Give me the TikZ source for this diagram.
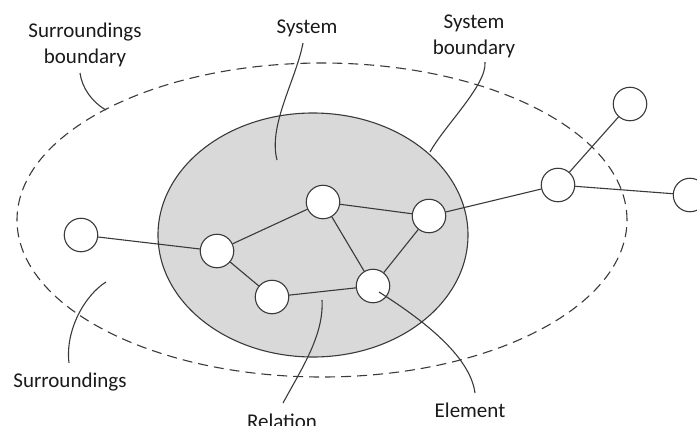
\documentclass[tikz,border=0pt]{standalone}
\usepackage{fontspec}
\setmainfont{Carlito}
\begin{document}
\begin{tikzpicture}[x=1pt,y=-1pt,
  line width=1.1pt,
  every node/.style={font=\fontsize{21}{25.5}\selectfont, text=labeltext},
  elem/.style={circle, draw=linecol, fill=white, minimum size=33.5pt, inner sep=0pt},
  rel/.style={draw=linecol},
  leader/.style={draw=linecol},
  lbl/.style={anchor=base, align=center, inner sep=0pt}]
  \definecolor{linecol}{HTML}{3A3A3A}
  \definecolor{labeltext}{HTML}{1A1A1A}
  \definecolor{sysfill}{HTML}{D9D9D9}
  \useasboundingbox (0,0) rectangle (697,426);

  % surroundings boundary and system
  \draw[linecol, dash pattern=on 10pt off 6pt] (322,220) ellipse [x radius=305pt, y radius=157pt];
  \draw[linecol, fill=sysfill] (313,235) ellipse [x radius=155pt, y radius=122pt];

  % elements
  \node[elem] (a) at (81,235) {};
  \node[elem] (b) at (217,251) {};
  \node[elem] (c) at (323,202) {};
  \node[elem] (d) at (429,216) {};
  \node[elem] (e) at (272,297) {};
  \node[elem] (f) at (373,286) {};
  \node[elem] (g) at (558,185) {};
  \node[elem] (h) at (630,104) {};
  \node[elem] (i) at (690,195) {};

  % relations
  \path[rel] (a) -- (b);
  \path[rel] (b) -- (c);
  \path[rel] (b) -- (e);
  \path[rel] (c) -- (d);
  \path[rel] (c) -- (f);
  \path[rel] (d) -- (f);
  \path[rel] (e) -- (f);
  \path[rel] (d) -- (g);
  \path[rel] (g) -- (h);
  \path[rel] (g) -- (i);

  % labels (base anchor sits on the last line)
  \node[lbl] (tsb) at (85,63) {Surroundings\\boundary};
  \node[lbl] (tsys) at (307,33) {System};
  \node[lbl] (tsysb) at (474,54) {System\\boundary};
  \node[lbl] (tsur) at (70,387) {Surroundings};
  \node[lbl] (trel) at (282,428) {Relation};
  \node[lbl] (tel) at (470,417) {Element};

  % leader lines
  \coordinate (sb1) at (80,73);   \coordinate (sb2) at (106,110);
  \coordinate (sy1) at (303,43);  \coordinate (sy2) at (277,160);
  \coordinate (yb1) at (485,62);  \coordinate (yb2) at (430,152);
  \coordinate (su1) at (106,282); \coordinate (su2) at (69,363);
  \coordinate (re1) at (322,300); \coordinate (re2) at (283,403);
  \coordinate (el1) at (379,292); \coordinate (el2) at (475,393);
  \path[leader] (sb1) .. controls (82,88) and (92,102) .. (sb2);
  \path[leader] (sy1) .. controls (296,80) and (268,125) .. (sy2);
  \path[leader] (yb1) .. controls (487,85) and (445,125) .. (yb2);
  \path[leader] (su1) .. controls (85,295) and (65,330) .. (su2);
  \path[leader] (re1) .. controls (324,335) and (302,368) .. (re2);
  \path[leader] (el1) .. controls (420,318) and (470,355) .. (el2);
\end{tikzpicture}
\end{document}
